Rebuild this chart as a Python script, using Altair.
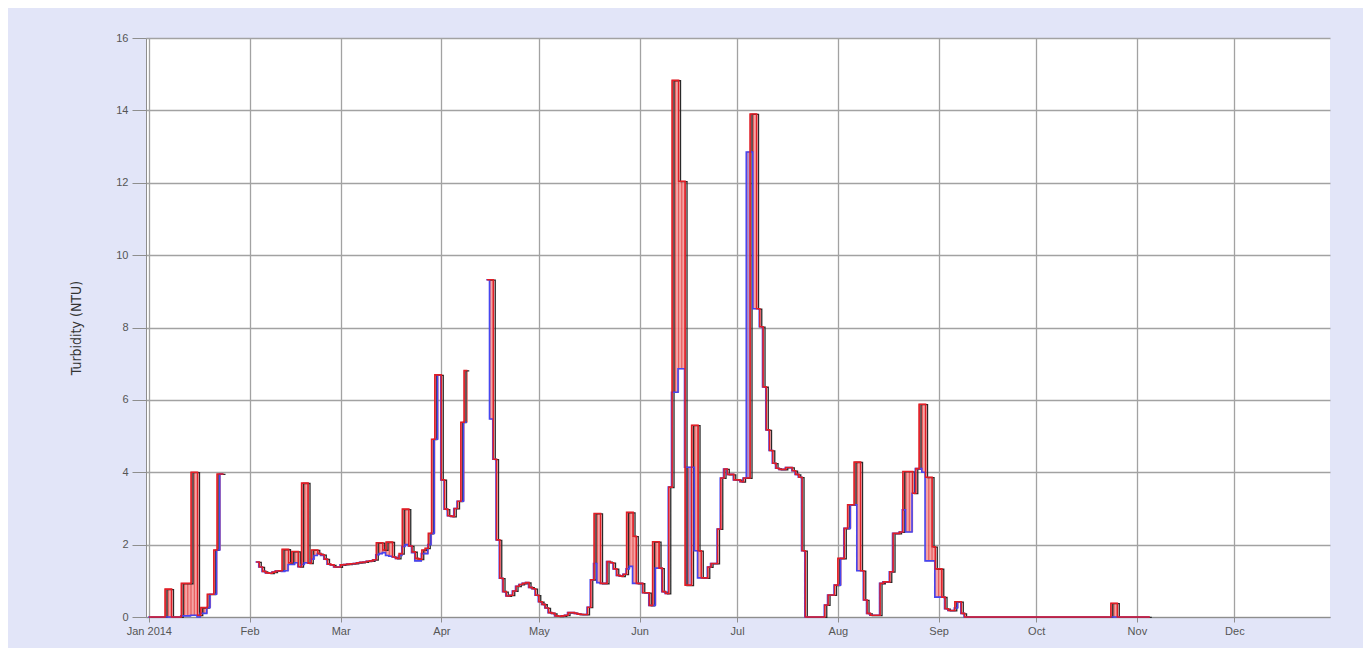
import altair as alt
import pandas as pd

# ---------------- data (daily values) ----------------
segment_starts = ["2014-01-01", "2014-02-03", "2014-04-15"]

red_jan = [0, 0, 0, 0, 0, 0.77, 0.77, 0, 0, 0,
           0.93, 0.93, 0.93, 4.0, 4.0, 0.05, 0.26, 0.26, 0.63, 0.63,
           1.85, 3.95, 3.95]
blue_jan = [0, 0, 0, 0, 0, 0, 0, 0, 0, 0,
            0.03, 0.03, 0.03, 0.05, 0.05, 0.0, 0.1, 0.1, 0.26, 0.63,
            0.63, 1.85, 3.95]

red_spring = [1.52, 1.38, 1.26, 1.22, 1.21, 1.24, 1.27,
              1.28, 1.87, 1.87, 1.50, 1.81, 1.81, 1.39, 3.70, 3.70, 1.49,
              1.85, 1.85, 1.75, 1.72, 1.60, 1.46, 1.44, 1.38, 1.38, 1.44,
              1.45, 1.46, 1.47, 1.48, 1.50, 1.51, 1.52, 1.54, 1.55, 1.58,
              2.05, 2.05, 1.85, 2.07, 2.07, 1.66, 1.62, 1.75, 2.98, 2.98,
              1.96, 1.80, 1.62, 1.60, 1.85, 1.90, 2.31, 4.91, 6.69, 6.69,
              3.79, 2.98, 2.80, 2.78, 3.00, 3.20, 5.38, 6.81]
blue_spring = [1.52, 1.38, 1.26, 1.22, 1.21, 1.24, 1.27,
               1.28, 1.26, 1.28, 1.45, 1.45, 1.50, 1.39, 1.45, 1.50, 1.49,
               1.60, 1.70, 1.75, 1.70, 1.60, 1.46, 1.44, 1.38, 1.38, 1.44,
               1.45, 1.46, 1.47, 1.48, 1.50, 1.51, 1.52, 1.54, 1.55, 1.58,
               1.72, 1.75, 1.78, 1.70, 1.68, 1.66, 1.62, 1.70, 1.95, 2.00,
               1.96, 1.78, 1.55, 1.55, 1.75, 1.75, 2.00, 2.31, 4.91, 6.69,
               3.79, 2.98, 2.80, 2.78, 3.00, 3.20, 3.20, 5.38]

red_summer = [9.32, 9.32, 4.36, 2.13, 1.07, 0.70,
              0.58, 0.60, 0.72, 0.85, 0.90, 0.93, 0.95, 0.82, 0.78, 0.60,
              0.42, 0.35, 0.25, 0.12, 0.10, 0.03, 0.02, 0.03, 0.05, 0.12,
              0.12, 0.10, 0.08, 0.07, 0.07, 0.27, 1.03, 2.86, 2.86, 0.93,
              0.93, 1.53, 1.50, 1.33, 1.15, 1.13, 1.18, 2.89, 2.89, 2.23,
              0.93, 0.93, 0.67, 0.67, 0.32, 2.08, 2.08, 1.35, 0.70, 0.65,
              3.59, 14.83, 14.83, 12.04, 12.04, 0.88, 0.88, 5.30, 5.30, 1.83,
              1.08, 1.08, 1.38, 1.48, 1.48, 2.43, 3.84, 4.09, 3.94, 3.94,
              3.79, 3.79, 3.74, 3.84, 3.84, 13.90, 13.90, 8.52, 8.02, 6.36,
              5.17, 4.60, 4.25, 4.11, 4.08, 4.08, 4.13, 4.13, 4.04, 3.94,
              3.86, 1.83, 0, 0, 0, 0, 0, 0, 0.33, 0.61,
              0.61, 0.88, 1.62, 1.62, 2.45, 3.10, 3.10, 4.28, 4.28, 1.28,
              0.47, 0.10, 0.05, 0.05, 0.05, 0.93, 0.97, 0.97, 1.25, 2.31,
              2.31, 2.35, 4.02, 4.02, 4.02, 3.42, 4.10, 5.88, 5.88, 3.86,
              3.86, 1.94, 1.33, 1.33, 0.55, 0.23, 0.18, 0.18, 0.42, 0.42,
              0.10, 0, 0, 0, 0, 0, 0, 0, 0, 0,
              0, 0, 0, 0, 0, 0, 0, 0, 0, 0,
              0, 0, 0, 0, 0, 0, 0, 0, 0, 0,
              0, 0, 0, 0, 0, 0, 0, 0, 0, 0,
              0, 0, 0, 0, 0, 0, 0.38, 0.38, 0, 0,
              0, 0, 0, 0, 0, 0, 0, 0]
blue_summer = [9.32, 5.47, 4.36, 2.13, 1.07, 0.70,
               0.58, 0.60, 0.72, 0.85, 0.90, 0.93, 0.95, 0.82, 0.78, 0.60,
               0.42, 0.35, 0.25, 0.12, 0.10, 0.03, 0.02, 0.03, 0.05, 0.12,
               0.12, 0.10, 0.08, 0.07, 0.07, 0.27, 1.03, 1.48, 0.95, 0.93,
               0.93, 1.53, 1.50, 1.33, 1.15, 1.13, 1.18, 1.33, 1.40, 0.93,
               0.93, 0.93, 0.67, 0.67, 0.32, 0.32, 1.35, 1.35, 0.70, 0.65,
               3.59, 6.21, 6.21, 6.86, 6.86, 4.14, 4.14, 4.14, 1.83, 1.08,
               1.08, 1.08, 1.38, 1.48, 1.48, 2.43, 3.84, 4.09, 3.94, 3.94,
               3.79, 3.79, 3.74, 3.84, 12.85, 12.85, 8.52, 8.52, 8.02, 6.36,
               5.17, 4.60, 4.25, 4.11, 4.08, 4.08, 4.13, 4.13, 4.04, 3.94,
               3.86, 1.83, 0, 0, 0, 0, 0, 0, 0.33, 0.61,
               0.61, 0.88, 0.88, 1.62, 2.45, 2.45, 3.10, 3.10, 1.28, 1.28,
               0.47, 0.10, 0.05, 0.05, 0.05, 0.93, 0.97, 0.97, 1.25, 2.31,
               2.31, 2.35, 2.96, 2.35, 2.35, 3.42, 4.10, 4.10, 4.00, 1.55,
               1.55, 1.55, 0.55, 0.55, 0.55, 0.23, 0.18, 0.18, 0.25, 0.42,
               0.10, 0, 0, 0, 0, 0, 0, 0, 0, 0,
               0, 0, 0, 0, 0, 0, 0, 0, 0, 0,
               0, 0, 0, 0, 0, 0, 0, 0, 0, 0,
               0, 0, 0, 0, 0, 0, 0, 0, 0, 0,
               0, 0, 0, 0, 0, 0, 0, 0, 0, 0,
               0, 0, 0, 0, 0, 0, 0, 0]

y_ticks = [0, 2, 4, 6, 8, 10, 12, 14, 16]
month_ticks = list(range(1, 13))

# ---------------- build tables ----------------
FMT = "%Y-%m-%dT%H:%M:%S"
segments = [(segment_starts[0], red_jan, blue_jan),
            (segment_starts[1], red_spring, blue_spring),
            (segment_starts[2], red_summer, blue_summer)]

line_rows, rect_rows = [], []
for si, (start, reds, blues) in enumerate(segments):
    days = pd.date_range(start, periods=len(reds), freq="D")
    for day, r, b in zip(days, reds, blues):
        t = day.strftime(FMT)
        line_rows.append({"seg": si, "t": t, "red": r, "blue": b})
        if r != b:
            rect_rows.append({
                "t": t,
                "t2": (day + pd.Timedelta(days=1)).strftime(FMT),
                "lo": min(r, b), "hi": max(r, b),
                "fill": "#F49C9C" if r > b else "#A58AD6",
            })
    end = days[-1] + pd.Timedelta(days=1)
    line_rows.append({"seg": si, "t": end.strftime(FMT),
                      "red": reds[-1], "blue": blues[-1]})

lines = pd.DataFrame(line_rows)
rects = pd.DataFrame(rect_rows)

# ---------------- encodings ----------------
x_scale = alt.Scale(domain=[alt.DateTime(year=2013, month=12, date=31, hours=3),
                            alt.DateTime(year=2014, month=12, date=30, hours=10)])
x_axis = alt.Axis(
    values=[alt.DateTime(year=2014, month=m, date=1) for m in month_ticks],
    labelExpr="month(datum.value) == 0 ? timeFormat(datum.value, '%b %Y') : timeFormat(datum.value, '%b')",
    labelFlush=False, labelOverlap=False, tickSize=5, labelPadding=3,
    grid=True, title=None,
)
y_scale = alt.Scale(domain=[0, 16], nice=False, zero=True)
y_axis = alt.Axis(values=y_ticks, tickSize=14, labelPadding=4, grid=True,
                  title="Turbidity (NTU)", titlePadding=32)

X = alt.X("t:T", scale=x_scale, axis=x_axis)

fill_layer = alt.Chart(rects).mark_rect(
    stroke="#E23A3A", strokeWidth=0.7, opacity=0.9
).encode(
    x=X,
    x2="t2:T",
    y=alt.Y("lo:Q", scale=y_scale, axis=y_axis),
    y2="hi:Q",
    fill=alt.Fill("fill:N", scale=None),
)

shadow = alt.Chart(lines).mark_line(
    interpolate="step-after", color="#2A2A2A", strokeWidth=1.3,
    xOffset=1.9, yOffset=0.4
).encode(x=X, y=alt.Y("red:Q", scale=y_scale, axis=y_axis), detail="seg:N")

blue_line = alt.Chart(lines).mark_line(
    interpolate="step-after", color="#4646F0", strokeWidth=1.6, xOffset=-0.6
).encode(x=X, y=alt.Y("blue:Q", scale=y_scale, axis=y_axis), detail="seg:N")

red_line = alt.Chart(lines).mark_line(
    interpolate="step-after", color="#E01E26", strokeWidth=1.6
).encode(x=X, y=alt.Y("red:Q", scale=y_scale, axis=y_axis), detail="seg:N")

chart = alt.layer(fill_layer, shadow, blue_line, red_line).properties(
    width=1184, height=579,
    autosize=alt.AutoSizeParams(type="none"),
    padding={"left": 138, "top": 30, "right": 33, "bottom": 31},
    background="#E2E5F8",
).configure_view(
    strokeWidth=0, fill="white"
).configure_axis(
    labelFont="Liberation Sans", labelFontSize=11, labelColor="#555555",
    titleFont="Liberation Sans Narrow, DejaVu Sans Condensed, sans-serif",
    titleFontSize=14, titleFontWeight="normal", titleColor="#333333",
    domainColor="#8E8E8E", tickColor="#8E8E8E",
    gridColor="#A2A2A2", gridWidth=1.3,
)

chart.save("out.html", embed_options={"renderer": "svg", "actions": False})
